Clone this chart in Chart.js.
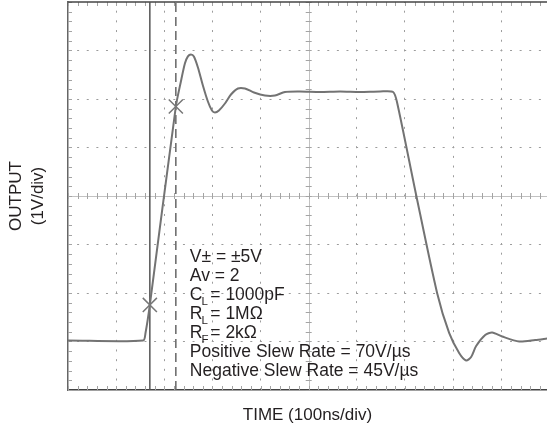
<!DOCTYPE html>
<html>
<head>
<meta charset="utf-8">
<script src="https://cdn.jsdelivr.net/npm/chart.js@4.4.1/dist/chart.umd.min.js"></script>
<style>
  html, body { margin: 0; padding: 0; background: #fff; }
</style>
</head>
<body>
<canvas id="scopeChart" width="547" height="434"></canvas>
<script>
// scope trace, in divisions (x: 100ns/div, y: 1V/div)
const timeDiv = [-5.0, -3.44, -3.39, -3.30, -2.76, -2.655, -2.572, -2.509, -2.447, -2.385, -2.301,
  -2.198, -2.094, -2.010, -1.948, -1.865, -1.740, -1.615, -1.470, -1.324, -1.137, -0.909, -0.701,
  -0.493, -0.181, 0.235, 0.651, 1.067, 1.482, 1.753, 1.836, 2.231, 2.667, 2.917, 3.125, 3.270,
  3.374, 3.478, 3.666, 3.811, 4.019, 4.372, 4.705, 4.954];
const outputDiv = [-2.98, -2.98, -2.824, -2.246, 1.845, 2.362, 2.733, 2.878, 2.919, 2.878, 2.651,
  2.279, 1.948, 1.762, 1.721, 1.762, 1.907, 2.093, 2.217, 2.217, 2.134, 2.072, 2.072,
  2.145, 2.155, 2.145, 2.155, 2.145, 2.155, 2.145, 1.928, 0.027, -1.998, -2.824, -3.238, -3.393,
  -3.320, -3.093, -2.866, -2.814, -2.897, -3.0, -2.969, -2.938];

// cursors and their crossing marks
const cursorSolid = -3.30;
const cursorDashed = -2.76;
const markTime = [-3.30, -2.76];
const markLevel = [-2.246, 1.845];

const xTicks = [-5, -4, -3, -2, -1, 0, 1, 2, 3, 4];
const yTicks = [-4, -3, -2, -1, 0, 1, 2, 3, 4];

const noteLines = [
  ['V\u00b1 = \u00b15V'],
  ['Av = 2'],
  ['C', 'L', ' = 1000pF'],
  ['R', 'L', ' = 1M\u03a9'],
  ['R', 'F', ' = 2k\u03a9'],
  ['Positive Slew Rate = 70V/\u00b5s'],
  ['Negative Slew Rate = 45V/\u00b5s']
];

const FONT = "'Liberation Sans', Arial, sans-serif";

const trace = timeDiv.map((t, i) => ({x: t, y: outputDiv[i]}));
const marks = markTime.map((t, i) => ({x: t, y: markLevel[i]}));

// grid extras: centre cross, minor ticks, top border and the note block
const scopeDecor = {
  id: 'scopeDecor',
  beforeDatasetsDraw(chart) {
    const {ctx, chartArea: a, scales: {x, y}} = chart;
    const x0 = x.getPixelForValue(0);
    const y0 = y.getPixelForValue(0);
    ctx.save();
    ctx.strokeStyle = '#c2c2c2';
    ctx.lineWidth = 1;
    ctx.beginPath();
    ctx.moveTo(a.left, Math.round(y0) + 0.5);
    ctx.lineTo(a.right, Math.round(y0) + 0.5);
    ctx.moveTo(Math.round(x0) + 0.5, a.top);
    ctx.lineTo(Math.round(x0) + 0.5, a.bottom);
    ctx.stroke();

    ctx.strokeStyle = '#a4a4a4';
    ctx.beginPath();
    for (let v = -5; v <= 4.96; v += 0.2) {
      const px = Math.round(x.getPixelForValue(v)) + 0.5;
      ctx.moveTo(px, y0 - 3); ctx.lineTo(px, y0 + 3);
      ctx.moveTo(px, a.top); ctx.lineTo(px, a.top + 4);
      ctx.moveTo(px, a.bottom); ctx.lineTo(px, a.bottom - 4);
    }
    for (let v = -4; v <= 4.01; v += 0.2) {
      const py = Math.round(y.getPixelForValue(v)) + 0.5;
      ctx.moveTo(x0 - 3, py); ctx.lineTo(x0 + 3, py);
      ctx.moveTo(a.left, py); ctx.lineTo(a.left + 4, py);
    }
    ctx.stroke();

    ctx.strokeStyle = '#444';
    ctx.lineWidth = 1.5;
    ctx.beginPath();
    ctx.moveTo(a.left, a.top);
    ctx.lineTo(a.right, a.top);
    ctx.stroke();
    ctx.restore();
  },
  afterDatasetsDraw(chart) {
    const {ctx, scales: {x, y}} = chart;
    const left = x.getPixelForValue(-2.47);
    let base = y.getPixelForValue(-1.37);
    ctx.save();
    ctx.fillStyle = '#231f20';
    ctx.textBaseline = 'alphabetic';
    noteLines.forEach(parts => {
      ctx.font = '17.5px ' + FONT;
      ctx.fillText(parts[0], left, base);
      if (parts.length > 1) {
        const w = ctx.measureText(parts[0]).width;
        ctx.font = '11.5px ' + FONT;
        ctx.fillText(parts[1], left + w - 1, base + 5);
        ctx.font = '17.5px ' + FONT;
        ctx.fillText(parts[2], left + w + 3, base);
      }
      base += 19;
    });
    ctx.restore();
  }
};

const gridColor = edges => c => edges.includes(c.tick.value) ? 'rgba(0,0,0,0)' : '#9c9c9c';

new Chart(document.getElementById('scopeChart'), {
  type: 'scatter',
  data: {
    datasets: [
      {
        data: marks,
        showLine: false,
        pointStyle: 'crossRot',
        pointRadius: 10,
        pointBorderColor: '#777',
        pointBorderWidth: 1.5,
        order: 0
      },
      {
        data: trace,
        showLine: true,
        borderColor: '#737373',
        borderWidth: 2,
        tension: 0.25,
        pointRadius: 0,
        order: 1
      },
      {
        data: [{x: cursorSolid, y: -4}, {x: cursorSolid, y: 4}],
        showLine: true,
        borderColor: '#555',
        borderWidth: 1.5,
        pointRadius: 0,
        order: 2
      },
      {
        data: [{x: cursorDashed, y: -4}, {x: cursorDashed, y: 4}],
        showLine: true,
        borderColor: '#666',
        borderWidth: 1.5,
        borderDash: [9, 5],
        pointRadius: 0,
        order: 3
      }
    ]
  },
  options: {
    responsive: false,
    devicePixelRatio: 1,
    animation: false,
    layout: { autoPadding: false, padding: { top: 2, right: 0, bottom: 0, left: 0 } },
    scales: {
      x: {
        type: 'linear',
        min: -5,
        max: 4.95,
        afterBuildTicks: s => { s.ticks = xTicks.map(v => ({value: v})); },
        ticks: { display: false },
        grid: { color: gridColor([-5, 0]), lineWidth: 1, drawTicks: false },
        border: { display: true, color: '#444', width: 1.5, dash: [2, 7.68], dashOffset: 1 },
        title: {
          display: true,
          text: 'TIME (100ns/div)',
          color: '#231f20',
          font: { family: FONT, size: 17, lineHeight: 1.2 },
          padding: { top: 15.6, bottom: 8 }
        }
      },
      y: {
        type: 'linear',
        min: -4,
        max: 4,
        afterBuildTicks: s => { s.ticks = yTicks.map(v => ({value: v})); },
        ticks: { display: false },
        grid: { color: gridColor([-4, 0, 4]), lineWidth: 1, drawTicks: false },
        border: { display: true, color: '#666', width: 1.5, dash: [2, 7.62], dashOffset: 1 },
        title: {
          display: true,
          text: ['OUTPUT', '(1V/div)'],
          color: '#231f20',
          font: { family: FONT, size: 17, lineHeight: 1.3 },
          padding: { top: 5, bottom: 18.8 }
        }
      }
    },
    plugins: {
      legend: { display: false },
      tooltip: { enabled: false }
    }
  },
  plugins: [scopeDecor]
});
</script>
</body>
</html>
